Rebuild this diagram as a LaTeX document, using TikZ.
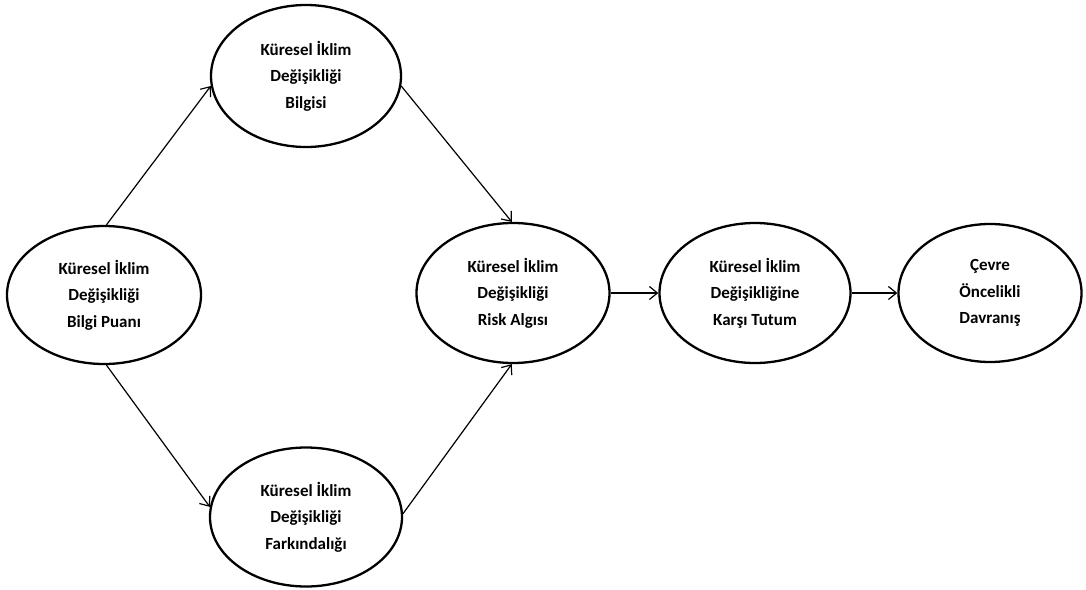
\documentclass[tikz,border=0pt]{standalone}
\usepackage{fontspec}
\setmainfont{Carlito}
\usetikzlibrary{shapes.geometric,arrows.meta}
\begin{document}
\begin{tikzpicture}[x=1pt,y=-1pt,
  oval/.style={ellipse, draw, line width=2.3pt, inner sep=0pt,
    minimum width=194pt, minimum height=138pt, align=center,
    font=\bfseries\fontsize{17}{26.5}\selectfont},
  link/.style={line width=1.2pt, -{Straight Barb[length=8pt,width=13pt,line width=1.2pt]}}]
\useasboundingbox (0,0) rectangle (1086,589);
\node[oval] (bp) at (104,295) {Küresel İklim\\Değişikliği\\Bilgi Puanı};
\node[oval, minimum width=190pt, minimum height=142pt] (bg) at (306,76) {Küresel İklim\\Değişikliği\\Bilgisi};
\node[oval, minimum width=192pt, minimum height=139pt] (fk) at (306,517) {Küresel İklim\\Değişikliği\\Farkındalığı};
\node[oval, minimum width=193pt, minimum height=140pt] (ra) at (513,293) {Küresel İklim\\Değişikliği\\Risk Algısı};
\node[oval, minimum width=191pt, minimum height=140pt] (tt) at (755,293) {Küresel İklim\\Değişikliğine\\Karşı Tutum};
\node[oval, minimum width=183pt, minimum height=138pt] (cd) at (990,293) {Çevre\\Öncelikli\\Davranış};
\draw[link] (bp.88) -- (bg.186);
\draw[link] (bg.-6) -- (ra.91);
\draw[link] (bp.-88) -- (fk.174);
\draw[link] (fk.2) -- (ra.-91);
\draw[link] (ra.east) -- (tt.west);
\draw[link] (tt.east) -- (cd.west);
\end{tikzpicture}
\end{document}
